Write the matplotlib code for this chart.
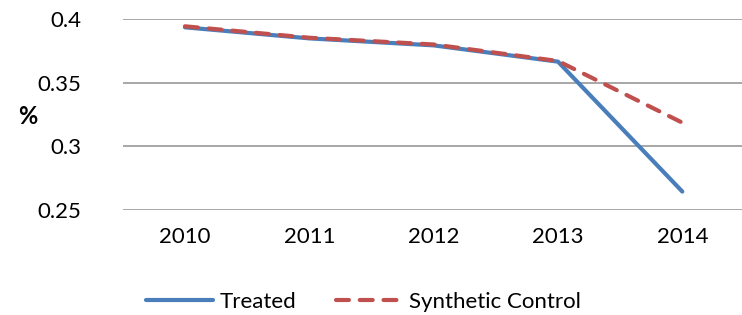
import matplotlib
matplotlib.use("Agg")
import matplotlib.pyplot as plt

years = ["2010", "2011", "2012", "2013", "2014"]
treated = [0.3937, 0.3850, 0.3795, 0.3667, 0.2645]
synthetic = [0.3945, 0.3855, 0.3802, 0.3672, 0.3187]
yticks = [0.25, 0.3, 0.35, 0.4]
ytick_labels = ["0.25", "0.3", "0.35", "0.4"]

plt.rcParams['font.family'] = ['Lato', 'DejaVu Sans']

fig = plt.figure(figsize=(7.42, 3.15), dpi=100)
ax = fig.add_axes([0.1655, 0.3333, 0.8345, 0.6054])

x = list(range(len(years)))
ax.plot(x, treated, color="#4A7EBB", lw=3, solid_capstyle="round", label="Treated", zorder=3)
ax.plot(x, synthetic, color="#C0504D", lw=3, dashes=(3.1, 2.6), dash_capstyle="round",
        label="Synthetic Control", zorder=4)

ax.set_xlim(-0.5, 4.48)
ax.set_ylim(0.25, 0.4)
ax.set_yticks(yticks)
ax.set_yticklabels(ytick_labels)
ax.set_xticks(x)
ax.set_xticklabels(years)
ax.grid(axis="y", color="#A0A0A0", lw=1.3)
ax.set_axisbelow(True)
for s in ax.spines.values():
    s.set_visible(False)
ax.tick_params(length=0, labelsize=16, colors="black")
ax.tick_params(axis="y", pad=30)
ax.tick_params(axis="x", pad=12)

fig.text(28/742, 1-116/315, "%", fontsize=17, fontweight="bold", ha="center", va="center")

fig.legend(loc="center", bbox_to_anchor=(0.49, 1-302/315), ncol=2, frameon=False,
           fontsize=16, handlelength=3.0, handletextpad=0.3, columnspacing=1.8)

fig.savefig("out.png", dpi=100)
